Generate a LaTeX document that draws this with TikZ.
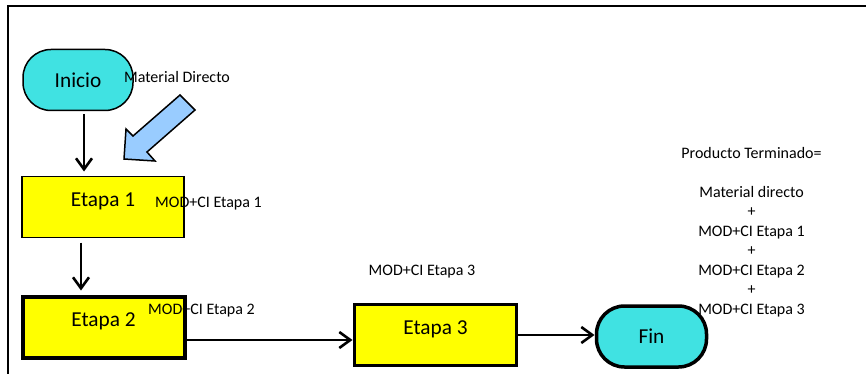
\documentclass[tikz,border=0pt]{standalone}
\usepackage{fontspec}
\setmainfont{Carlito}
\usetikzlibrary{positioning}
\usetikzlibrary{arrows.meta}
\usetikzlibrary{calc}

\definecolor{terminalcyan}{RGB}{64,226,226}
\definecolor{etapayellow}{RGB}{255,255,0}
\definecolor{materialblue}{RGB}{153,204,255}

\tikzset{
    bigtext/.style={font=\fontsize{21.3}{25}\selectfont},
    smalltext/.style={font=\fontsize{16}{19.5}\selectfont},
    terminal/.style={draw, fill=terminalcyan, rounded corners=28pt, minimum width=110pt, minimum height=61pt, inner sep=0pt, outer sep=0pt, bigtext},
    etapa/.style={draw, fill=etapayellow, minimum width=162pt, minimum height=61pt, inner sep=0pt, outer sep=0pt, text height=15pt, text depth=17pt, bigtext},
    flow/.style={line width=2.6pt, -{Straight Barb[length=11pt,width=16pt]}},
}

\begin{document}
\begin{tikzpicture}[x=1pt, y=-1pt]
        \useasboundingbox (0,0) rectangle (866,374);
        \draw [line width=1.5pt] (8,374) -- (8,6) -- (866,6);

        \node[terminal, line width=1.5pt] (inicio) at (78,80) {Inicio};
        \node[etapa, line width=1.5pt] (etapa1) at (103,207) {Etapa 1};
        \node[etapa, line width=4pt] (etapa2) at (103.5,327) {Etapa 2};
        \node[etapa, line width=3.5pt] (etapa3) at (435.5,335) {Etapa 3};
        \node[terminal, line width=3.5pt] (fin) at (651.5,336.5) {Fin};

        \node[smalltext] (matdir) at (177,77) {Material Directo};
        \node[smalltext] (mod1) at (208.5,204) {MOD+CI Etapa 1};
        \node[smalltext] (mod2) at (201.5,311) {MOD+CI Etapa 2};
        \node[smalltext] (mod3) at (422,272) {MOD+CI Etapa 3};
        \node[smalltext, align=center] (producto) at (751.5,232) {Producto Terminado=\\[19.5pt]Material directo\\+\\MOD+CI Etapa 1\\+\\MOD+CI Etapa 2\\+\\MOD+CI Etapa 3};

        \draw [line width=1.5pt, fill=materialblue, line join=miter] (180,95) -- (195,110) -- (147,152) -- (155,161) -- (124,159) -- (126,129) -- (133,136) -- cycle;

        \draw [flow, shorten <=4pt, shorten >=5pt] ([xshift=6pt]inicio.south) -- ([xshift=6pt]inicio.south |- etapa1.north);
        \draw [flow, shorten <=5pt, shorten >=6pt] ([xshift=-22pt]etapa1.south) -- ([xshift=-22pt]etapa1.south |- etapa2.north);
        \draw [flow, shorten >=2pt] ([yshift=-13pt]etapa2.east) -- ([yshift=-13pt]etapa2.east -| etapa3.west);
        \draw [flow, shorten >=2pt] (etapa3.east) -- (etapa3.east -| fin.west);
    \end{tikzpicture}
\end{document}
